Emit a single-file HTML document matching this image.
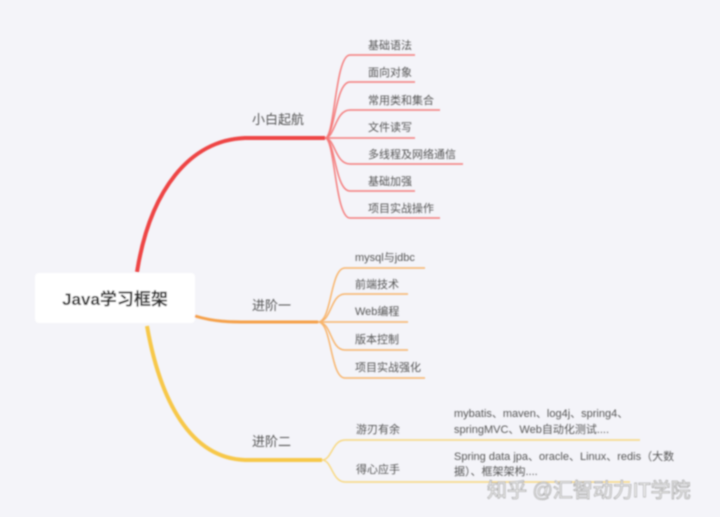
<!DOCTYPE html>
<html><head><meta charset="utf-8"><style>
body{margin:0;background:#f4f4f9;width:720px;height:517px;overflow:hidden;font-family:"Liberation Sans","Noto Sans CJK SC",sans-serif;}
svg{position:absolute;left:0;top:0}
text{font-family:"Liberation Sans","Noto Sans CJK SC",sans-serif;fill:#555;font-size:11px}
</style></head><body>
<svg width="720" height="517">
<defs><filter id="b" x="-10%" y="-10%" width="120%" height="120%"><feGaussianBlur stdDeviation="0.8"/></filter></defs>
<rect x="0" y="0" width="720" height="517" fill="#f4f4f9"/>
<g filter="url(#b)">
<rect x="35" y="273" width="160" height="50" rx="4" fill="#fff"/>
<text x="115" y="305" text-anchor="middle" style="font-size:17px;font-weight:bold;fill:#333">Java学习框架</text>
<g fill="none" stroke="#ee4444">
<path d="M137 272 C150 190 190 140 245 138 L325 138" stroke-width="4"/>
</g>
<g fill="none" stroke="#f47b7b" stroke-width="1.5">
<path d="M325 138 C335 138 335 55 350 55 L415 55"/>
<path d="M325 138 C335 138 335 82 350 82 L415 82"/>
<path d="M325 138 C335 138 335 110 350 110 L440 110"/>
<path d="M325 138 L415 138"/>
<path d="M325 138 C335 138 335 164 350 164 L463 164"/>
<path d="M325 138 C335 138 335 191 350 191 L415 191"/>
<path d="M325 138 C335 138 335 218 350 218 L440 218"/>
</g>
<text x="252" y="124" style="font-size:13px">小白起航</text>
<text x="368" y="49">基础语法</text>
<text x="368" y="76">面向对象</text>
<text x="368" y="104">常用类和集合</text>
<text x="368" y="131">文件读写</text>
<text x="368" y="158">多线程及网络通信</text>
<text x="368" y="185">基础加强</text>
<text x="368" y="212">项目实战操作</text>
<path d="M195 316 C215 322 230 322 250 322 L318 322" fill="none" stroke="#f5a04a" stroke-width="3"/>
<g fill="none" stroke="#f8b46a" stroke-width="1.5">
<path d="M318 322 C332 322 330 268 345 268 L425 268"/>
<path d="M318 322 C332 322 330 294 345 294 L408 294"/>
<path d="M318 322 L408 322"/>
<path d="M318 322 C332 322 330 350 345 350 L408 350"/>
<path d="M318 322 C332 322 330 378 345 378 L425 378"/>
</g>
<text x="252" y="310" style="font-size:13px">进阶一</text>
<text x="355" y="261">mysql与jdbc</text>
<text x="355" y="288">前端技术</text>
<text x="355" y="315">Web编程</text>
<text x="355" y="343">版本控制</text>
<text x="355" y="371">项目实战强化</text>
<path d="M147 326 C160 400 190 458 245 460 L322 460" fill="none" stroke="#f7c84a" stroke-width="4"/>
<g fill="none" stroke="#f8d880" stroke-width="1.5">
<path d="M322 460 C332 460 332 440 345 440 L640 440"/>
<path d="M322 460 C332 460 332 482 345 482 L630 482"/>
</g>
<text x="252" y="446" style="font-size:13px">进阶二</text>
<text x="356" y="433">游刃有余</text>
<text x="356" y="473">得心应手</text>
<text x="454" y="417">mybatis、maven、log4j、spring4、</text>
<text x="454" y="433">springMVC、Web自动化测试....</text>
<text x="454" y="460">Spring data jpa、oracle、Linux、redis（大数</text>
<text x="454" y="475">据）、框架架构....</text>
<text x="487" y="497" style="font-size:20px;fill:#fff;stroke:#aaa;stroke-width:0.8">知乎 @汇智动力IT学院</text>
</g>
</svg>
</body></html>
